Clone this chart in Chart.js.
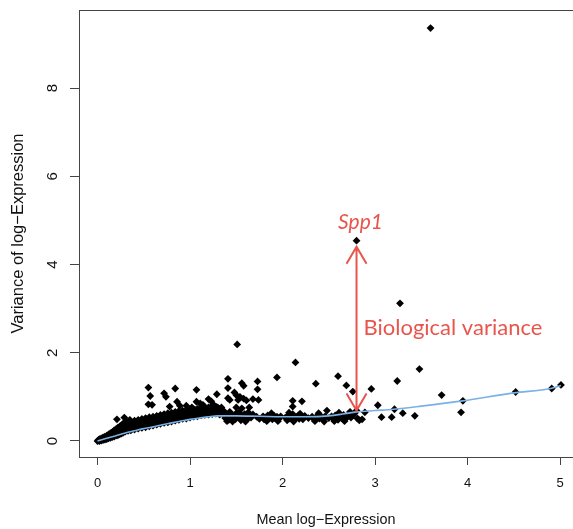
<!DOCTYPE html>
<html>
<head>
<meta charset="utf-8">
<title>Mean vs variance of log-expression</title>
<script src="https://cdn.jsdelivr.net/npm/chart.js@4.4.1/dist/chart.umd.min.js"></script>
<style>
  html, body { margin: 0; padding: 0; background: #fff; overflow: hidden; }
  #wrap { width: 573px; height: 529px; }
</style>
</head>
<body>
<div id="wrap"><canvas id="varChart" width="573" height="529"></canvas></div>
<script>
// axis ticks
const xTicks = [0, 1, 2, 3, 4, 5];
const yTicks = [0, 2, 4, 6, 8];

// dense band of genes along the trend (mean, variance)
const bandPoints = [
  [0.00,0.00],[0.01,0.02],[0.02,0.00],[0.02,0.04],[0.03,0.02],[0.04,0.06],[0.04,0.01],[0.05,0.04],
  [0.06,0.08],[0.06,0.02],[0.07,0.05],[0.08,0.10],[0.08,0.03],[0.09,0.07],[0.10,0.12],[0.10,0.04],
  [0.11,0.09],[0.12,0.15],[0.12,0.06],[0.13,0.11],[0.14,0.18],[0.14,0.07],[0.15,0.13],[0.16,0.20],
  [0.16,0.09],[0.17,0.15],[0.18,0.24],[0.18,0.10],[0.19,0.17],[0.20,0.27],[0.20,0.12],[0.21,0.20],
  [0.22,0.30],[0.22,0.13],[0.23,0.22],[0.24,0.33],[0.24,0.15],[0.25,0.25],[0.26,0.36],[0.26,0.17],
  [0.27,0.28],[0.28,0.19],[0.28,0.40],[0.29,0.31],[0.30,0.21],[0.30,0.35],[0.31,0.26],[0.32,0.42],
  [0.33,0.23],[0.33,0.33],[0.34,0.38],[0.35,0.27],[0.36,0.44],[0.36,0.24],[0.37,0.34],[0.38,0.40],
  [0.39,0.29],[0.40,0.46],[0.40,0.26],[0.41,0.36],[0.42,0.42],[0.43,0.31],[0.44,0.48],[0.44,0.28],
  [0.45,0.38],[0.46,0.44],[0.47,0.33],[0.48,0.50],[0.48,0.30],[0.49,0.40],[0.50,0.45],[0.51,0.35],
  [0.52,0.52],[0.52,0.31],[0.53,0.42],[0.54,0.47],[0.55,0.37],[0.56,0.54],[0.56,0.33],[0.57,0.44],
  [0.58,0.49],[0.59,0.39],[0.60,0.55],[0.60,0.35],[0.61,0.46],[0.62,0.51],[0.63,0.41],[0.64,0.57],
  [0.64,0.37],[0.65,0.47],[0.66,0.53],[0.67,0.43],[0.68,0.59],[0.68,0.39],[0.69,0.49],[0.70,0.55],
  [0.71,0.45],[0.72,0.61],[0.72,0.41],[0.73,0.51],[0.74,0.56],[0.75,0.46],[0.76,0.63],[0.76,0.42],
  [0.77,0.53],[0.78,0.58],[0.79,0.48],[0.80,0.64],[0.80,0.44],[0.81,0.55],[0.82,0.60],[0.83,0.50],
  [0.84,0.66],[0.84,0.46],[0.85,0.56],[0.86,0.61],[0.87,0.52],[0.88,0.68],[0.88,0.48],[0.89,0.58],
  [0.90,0.63],[0.91,0.54],[0.92,0.69],[0.92,0.50],[0.93,0.60],[0.94,0.65],[0.95,0.55],[0.96,0.70],
  [0.96,0.51],[0.97,0.61],[0.98,0.67],[0.99,0.57],[1.00,0.71],[1.00,0.53],[1.01,0.63],[1.02,0.68],
  [1.03,0.58],[1.04,0.72],[1.04,0.55],[1.05,0.64],[1.06,0.70],[1.07,0.60],[1.08,0.73],[1.08,0.56],
  [1.09,0.66],[1.10,0.71],[1.11,0.61],[1.12,0.74],[1.12,0.58],[1.13,0.67],[1.14,0.72],[1.15,0.62],
  [1.16,0.75],[1.16,0.59],[1.17,0.68],[1.18,0.73],[1.19,0.63],[1.20,0.76],[1.20,0.60],[1.21,0.69],
  [1.22,0.74],[1.23,0.64],[1.24,0.77],[1.24,0.61],[1.25,0.70],[1.26,0.75],[1.27,0.65],[1.28,0.78],
  [1.28,0.62],[1.29,0.71],[1.30,0.76],[1.31,0.66],[1.32,0.60],[1.33,0.73],[1.34,0.76],[1.35,0.63],
  [1.36,0.69],[1.37,0.64],
  [1.38,0.52],[1.39,0.60],[1.40,0.45],[1.41,0.55],[1.42,0.48],[1.43,0.66],[1.44,0.62],[1.45,0.52],
  [1.46,0.44],[1.47,0.57],[1.49,0.49],[1.50,0.63],[1.52,0.54],[1.53,0.65],[1.54,0.59],[1.55,0.47],
  [1.57,0.52],[1.59,0.61],[1.60,0.44],[1.61,0.56],[1.62,0.49],[1.63,0.65],[1.64,0.58],[1.66,0.53],
  [1.68,0.60],[1.72,0.55],[1.75,0.50],
  [1.79,0.56],[1.80,0.49],[1.82,0.53],[1.83,0.45],[1.84,0.58],[1.85,0.51],[1.87,0.55],[1.88,0.63],
  [1.89,0.49],[1.91,0.57],[1.92,0.52],[1.94,0.55],[1.95,0.45],[1.96,0.50],[1.98,0.56],
  [2.03,0.53],[2.05,0.47],[2.06,0.57],[2.07,0.64],[2.08,0.51],[2.10,0.55],[2.11,0.61],[2.12,0.44],
  [2.13,0.48],[2.15,0.54],[2.17,0.58],[2.18,0.50],[2.19,0.62],[2.20,0.55],[2.22,0.49],[2.24,0.57],
  [2.28,0.52],
  [2.32,0.55],[2.34,0.49],[2.35,0.45],[2.36,0.53],[2.38,0.58],[2.39,0.63],[2.40,0.51],[2.42,0.55],
  [2.44,0.49],[2.45,0.44],[2.46,0.56],[2.50,0.52],
  [2.53,0.56],[2.55,0.50],[2.56,0.45],[2.57,0.58],[2.58,0.53],[2.60,0.48],[2.61,0.64],[2.62,0.56],
  [2.64,0.52],[2.66,0.59],[2.67,0.45],[2.68,0.50],[2.70,0.55],[2.72,0.61],[2.73,0.66],[2.74,0.53],
  [2.76,0.58],[2.78,0.63],[2.81,0.51],[2.83,0.47],[2.86,0.49]
];

// genes standing out above the band
const outlierPoints = [
  [0.21,0.49],[0.29,0.53],[0.31,0.45],[0.35,0.48],[0.55,1.21],[0.57,1.02],[0.55,0.83],[0.59,0.82],
  [0.72,1.08],[0.74,1.00],[0.84,1.19],[0.86,0.89],[0.89,0.80],[0.78,0.78],[0.96,0.80],[1.02,0.76],
  [1.07,1.16],[1.07,0.89],[1.11,0.85],[1.14,0.82],[1.20,0.95],[1.23,0.90],[1.29,1.06],[1.25,0.83],
  [1.41,1.41],[1.41,1.20],[1.41,0.97],[1.43,0.93],[1.48,1.10],[1.50,1.04],[1.52,0.93],[1.54,1.00],
  [1.56,1.31],[1.58,1.25],[1.58,0.96],[1.61,0.92],[1.68,0.95],[1.73,1.35],[1.73,1.17],[1.50,0.76],
  [1.56,0.74],[1.64,0.76],[1.74,0.93],[1.51,2.19],[1.94,1.44],[2.14,1.78],[2.11,0.91],[2.21,0.90],
  [2.11,0.78],[2.36,1.30],[2.60,1.47],[2.69,1.26],[2.76,1.12],[2.48,0.69],[2.89,0.65],[2.96,1.18],
  [3.03,0.81],[3.07,0.54],[3.18,0.54],[3.21,0.72],[3.24,1.36],[3.27,3.12],[3.30,0.63],[3.43,0.57],
  [3.48,1.63],[3.60,9.36],[3.72,1.04],[3.93,0.65],[3.95,0.91],[4.52,1.11],[4.91,1.19],[5.01,1.27],
  [2.80,4.54],[2.80,0.69]
];

// fitted mean-variance trend
const trendPoints = [
  [0.00,0.00],[0.10,0.06],[0.20,0.12],[0.30,0.18],[0.40,0.23],[0.50,0.28],[0.60,0.32],[0.70,0.37],
  [0.80,0.41],[0.90,0.45],[1.00,0.49],[1.10,0.52],[1.20,0.55],[1.30,0.57],[1.50,0.57],[1.75,0.56],
  [2.00,0.55],[2.25,0.55],[2.50,0.57],[2.65,0.61],[2.80,0.66],[3.00,0.69],[3.20,0.72],[3.50,0.79],
  [3.95,0.91],[4.50,1.09],[4.90,1.19],[5.01,1.26]
];

// highlighted gene and its fitted value
const spp1 = [2.80, 4.54];
const spp1Trend = 0.69;

const toXY = arr => arr.map(p => ({ x: p[0], y: p[1] }));
const red = '#e8554d';

const annotate = {
  id: 'annotate',
  afterDatasetsDraw(chart) {
    const { ctx, chartArea: a, scales: { x, y } } = chart;
    ctx.save();
    // top edge of the box
    ctx.strokeStyle = '#444';
    ctx.lineWidth = 1;
    ctx.beginPath();
    ctx.moveTo(a.left, a.top + 0.5);
    ctx.lineTo(a.right, a.top + 0.5);
    ctx.stroke();

    // double arrow from trend up to Spp1
    const px = x.getPixelForValue(spp1[0]);
    const yTop = y.getPixelForValue(spp1[1]) + 6;
    const yBot = y.getPixelForValue(spp1Trend);
    ctx.strokeStyle = red;
    ctx.lineWidth = 2;
    ctx.beginPath();
    ctx.moveTo(px, yTop);
    ctx.lineTo(px, yBot);
    ctx.moveTo(px - 10, yTop + 17);
    ctx.lineTo(px, yTop);
    ctx.lineTo(px + 10, yTop + 17);
    ctx.moveTo(px - 10, yBot - 17);
    ctx.lineTo(px, yBot);
    ctx.lineTo(px + 10, yBot - 17);
    ctx.stroke();

    ctx.fillStyle = red;
    ctx.font = 'italic 21px Lato';
    ctx.textAlign = 'center';
    ctx.textBaseline = 'alphabetic';
    ctx.fillText('Spp1', px + 4, y.getPixelForValue(spp1[1]) - 12);

    ctx.font = '22px Lato';
    ctx.textAlign = 'left';
    ctx.textBaseline = 'middle';
    ctx.fillText('Biological variance', px + 7, y.getPixelForValue(2.56));
    ctx.restore();
  }
};

new Chart(document.getElementById('varChart'), {
  type: 'scatter',
  data: {
    datasets: [
      {
        type: 'line',
        data: toXY(trendPoints),
        borderColor: '#7ab0e4',
        borderWidth: 1.6,
        pointRadius: 0,
        cubicInterpolationMode: 'monotone',
        fill: false,
        order: 0
      },
      {
        data: toXY(bandPoints),
        pointStyle: 'rectRot',
        pointRadius: 3.9,
        borderWidth: 0,
        backgroundColor: '#000',
        order: 1
      },
      {
        data: toXY(outlierPoints),
        pointStyle: 'rectRot',
        pointRadius: 3.9,
        borderWidth: 0,
        backgroundColor: '#000',
        order: 1
      }
    ]
  },
  options: {
    responsive: false,
    animation: false,
    events: [],
    layout: { autoPadding: false, padding: { top: 10, right: 0, left: 0, bottom: 0 } },
    plugins: { legend: { display: false }, tooltip: { enabled: false } },
    scales: {
      x: {
        type: 'linear',
        min: -0.2,
        max: 5.14,
        afterBuildTicks: s => { s.ticks = xTicks.map(v => ({ value: v })); },
        afterFit: s => { s.height = 72; s.paddingLeft = 0; s.paddingRight = 0; },
        grid: { display: true, drawOnChartArea: false, tickLength: 8, tickColor: '#444', tickWidth: 1 },
        border: { display: true, color: '#444', width: 1 },
        ticks: { color: '#111', font: { family: 'Liberation Sans', size: 13 }, padding: 11, maxRotation: 0 },
        title: {
          display: true,
          text: 'Mean log\u2212Expression',
          color: '#111',
          font: { family: 'Liberation Sans', size: 14.4 },
          padding: { top: 0, bottom: 0 }
        }
      },
      y: {
        type: 'linear',
        min: -0.363,
        max: 9.77,
        afterBuildTicks: s => { s.ticks = yTicks.map(v => ({ value: v })); },
        afterFit: s => { s.width = 79; s.paddingTop = 0; s.paddingBottom = 0; },
        grid: { display: true, drawOnChartArea: false, tickLength: 9, tickColor: '#444', tickWidth: 1 },
        border: { display: true, color: '#444', width: 1 },
        ticks: {
          color: '#111',
          font: { family: 'Liberation Sans', size: 15 },
          padding: 13,
          minRotation: 90,
          maxRotation: 90,
          crossAlign: 'center'
        },
        title: {
          display: true,
          text: 'Variance of log\u2212Expression',
          color: '#111',
          font: { family: 'Liberation Sans', size: 16.5 },
          padding: { top: 9, bottom: 0 }
        }
      }
    }
  },
  plugins: [annotate]
});
</script>
</body>
</html>
